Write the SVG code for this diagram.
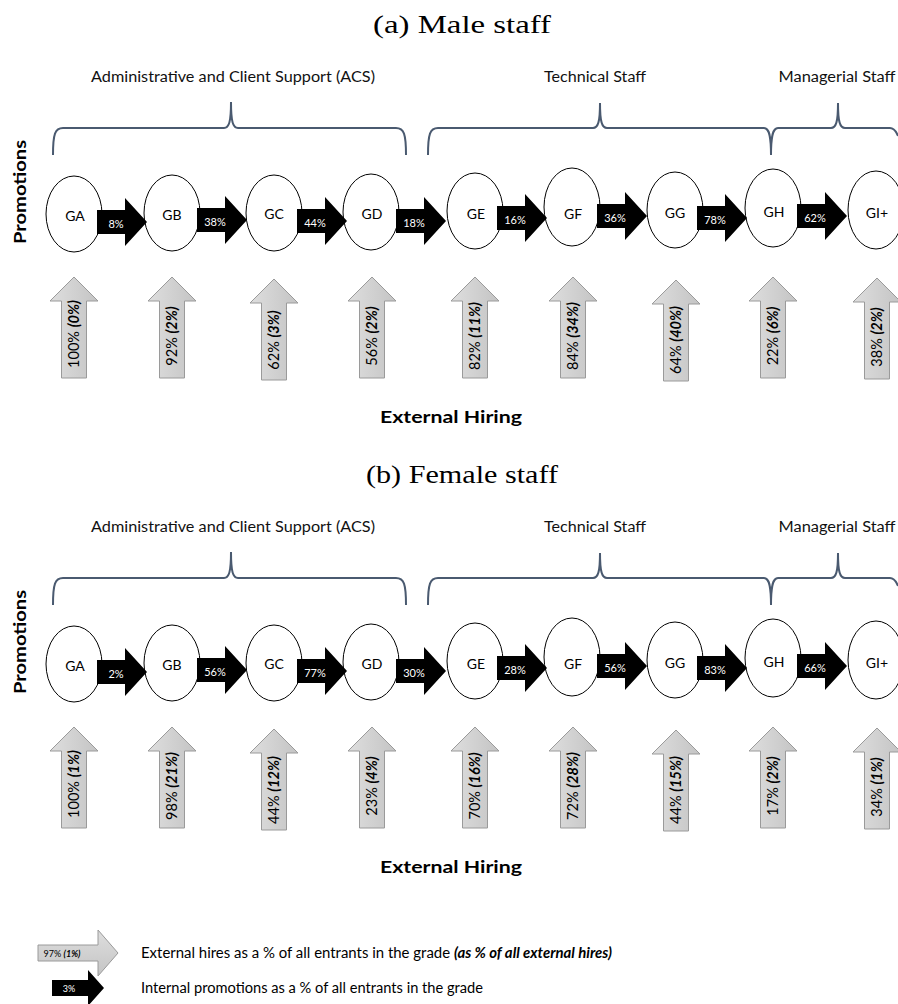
<svg xmlns="http://www.w3.org/2000/svg" width="898" height="1004" viewBox="0 0 898 1004">
<style>
.title{font-family:"Liberation Serif","DejaVu Serif",serif;font-size:26px;fill:#000;text-anchor:middle}
.grp{font-family:Lato,"Liberation Sans",sans-serif;font-size:14.5px;fill:#111;text-anchor:middle}
.axis{font-family:Lato,"Liberation Sans",sans-serif;font-size:17px;font-weight:bold;fill:#000;text-anchor:middle}
.node ellipse{fill:#fff;stroke:#000;stroke-width:1}
.node text{font-family:Lato,"Liberation Sans",sans-serif;font-size:14px;fill:#000;text-anchor:middle;dominant-baseline:central}
.brace{fill:none;stroke:#4a5a70;stroke-width:2}
.blk{fill:#000}
.blabel{font-family:Lato,"Liberation Sans",sans-serif;font-size:11px;fill:#fff;text-anchor:middle;dominant-baseline:central}
.up{fill:url(#gg);stroke:#9a9a9a;stroke-width:1}
.ulabel{font-family:Lato,"Liberation Sans",sans-serif;font-size:14.5px;fill:#000;text-anchor:middle}
.bi{font-weight:bold;font-style:italic}
.leg{font-family:Lato,"Liberation Sans",sans-serif;font-size:14.8px;fill:#000}
</style>
<defs>
<linearGradient id="gg" x1="0" y1="0" x2="1" y2="0">
<stop offset="0" stop-color="#dedede"/>
<stop offset="1" stop-color="#c4c4c4"/>
</linearGradient>
<linearGradient id="gv" x1="0" y1="0" x2="0" y2="1">
<stop offset="0" stop-color="#dedede"/>
<stop offset="1" stop-color="#c4c4c4"/>
</linearGradient>
<path id="blkarrow" d="M0,-12 H28 V-24 L50,0 L28,24 V12 H0 Z"/>
<path id="uparrow" d="M0,0 L24,24 H12.5 V101 H-12.5 V24 H-24 Z"/>
</defs>

<!-- ================= PANEL A ================= -->
<text class="title" x="462" y="33" textLength="178" lengthAdjust="spacingAndGlyphs">(a) Male staff</text>
<text class="grp" x="233" y="82" textLength="284" lengthAdjust="spacingAndGlyphs">Administrative and Client Support (ACS)</text>
<text class="grp" x="595" y="82" textLength="102" lengthAdjust="spacingAndGlyphs">Technical Staff</text>
<text class="grp" x="837" y="82" textLength="117" lengthAdjust="spacingAndGlyphs">Managerial Staff</text>
<g id="braces-a">
<path class="brace" d="M53,155 C53,134 55,128 63,128 L224,128 C229,128 231,122 231,102 C231,122 233,128 238,128 L396,128 C404,128 406,134 406,155"/>
<path class="brace" d="M428,155 C428,134 430,128 438,128 L593,128 C598,128 600,122 600,103 C600,122 602,128 607,128 L764,128 C769,128 771,135 771,155 C771,135 773,128 778,128 L831,128 C836,128 838,122 838,103 C838,122 840,128 845,128 L890,128 C894,128 896,131 898,136"/>
</g>
<text class="axis" transform="translate(26,192) rotate(-90)" textLength="104" lengthAdjust="spacingAndGlyphs">Promotions</text>

<g id="a-GA" class="node"><ellipse cx="74" cy="214" rx="28" ry="38"/><text x="75" y="215">GA</text></g>
<g id="a-GB" class="node"><ellipse cx="172" cy="213" rx="28" ry="38"/><text x="172" y="214">GB</text></g>
<g id="a-GC" class="node"><ellipse cx="274" cy="213" rx="28" ry="38"/><text x="274" y="213">GC</text></g>
<g id="a-GD" class="node"><ellipse cx="371" cy="212" rx="28" ry="38"/><text x="372" y="213">GD</text></g>
<g id="a-GE" class="node"><ellipse cx="475" cy="211" rx="28" ry="38"/><text x="476" y="213">GE</text></g>
<g id="a-GF" class="node"><ellipse cx="572" cy="207" rx="28" ry="39"/><text x="573" y="213">GF</text></g>
<g id="a-GG" class="node"><ellipse cx="675" cy="210" rx="28" ry="38"/><text x="675" y="212">GG</text></g>
<g id="a-GH" class="node"><ellipse cx="773" cy="208" rx="28" ry="39"/><text x="774" y="211">GH</text></g>
<g id="a-GI" class="node"><ellipse cx="876" cy="210" rx="28" ry="39"/><text x="877" y="212">GI+</text></g>

<g id="connectors-a">
<use href="#blkarrow" class="blk" x="97" y="222"/><text class="blabel" x="116" y="223">8%</text>
<use href="#blkarrow" class="blk" x="197" y="220"/><text class="blabel" x="215" y="221">38%</text>
<use href="#blkarrow" class="blk" x="297" y="221"/><text class="blabel" x="315" y="222">44%</text>
<use href="#blkarrow" class="blk" x="396" y="221"/><text class="blabel" x="414" y="222">18%</text>
<use href="#blkarrow" class="blk" x="497" y="218"/><text class="blabel" x="515" y="219">16%</text>
<use href="#blkarrow" class="blk" x="597" y="216"/><text class="blabel" x="615" y="217">36%</text>
<use href="#blkarrow" class="blk" x="697" y="218"/><text class="blabel" x="715" y="219">78%</text>
<use href="#blkarrow" class="blk" x="797" y="216"/><text class="blabel" x="815" y="217">62%</text>
</g>

<g id="a-hire-GA"><use href="#uparrow" class="up" x="74" y="277"/><text class="ulabel" transform="translate(79,334) rotate(-90)">100% <tspan class="bi">(0%)</tspan></text></g>
<g id="a-hire-GB"><use href="#uparrow" class="up" x="172" y="277"/><text class="ulabel" transform="translate(177,336) rotate(-90)">92% <tspan class="bi">(2%)</tspan></text></g>
<g id="a-hire-GC"><use href="#uparrow" class="up" x="274" y="279"/><text class="ulabel" transform="translate(279,340) rotate(-90)">62% <tspan class="bi">(3%)</tspan></text></g>
<g id="a-hire-GD"><use href="#uparrow" class="up" x="372" y="277"/><text class="ulabel" transform="translate(377,336) rotate(-90)">56% <tspan class="bi">(2%)</tspan></text></g>
<g id="a-hire-GE"><use href="#uparrow" class="up" x="475" y="277"/><text class="ulabel" transform="translate(480,336) rotate(-90)">82% <tspan class="bi">(11%)</tspan></text></g>
<g id="a-hire-GF"><use href="#uparrow" class="up" x="573" y="277"/><text class="ulabel" transform="translate(578,336) rotate(-90)">84% <tspan class="bi">(34%)</tspan></text></g>
<g id="a-hire-GG"><use href="#uparrow" class="up" x="676" y="280"/><text class="ulabel" transform="translate(681,340) rotate(-90)">64% <tspan class="bi">(40%)</tspan></text></g>
<g id="a-hire-GH"><use href="#uparrow" class="up" x="773" y="277"/><text class="ulabel" transform="translate(778,336) rotate(-90)">22% <tspan class="bi">(6%)</tspan></text></g>
<g id="a-hire-GI"><use href="#uparrow" class="up" x="877" y="278"/><text class="ulabel" transform="translate(882,337) rotate(-90)">38% <tspan class="bi">(2%)</tspan></text></g>

<text class="axis" x="451" y="423" textLength="142" lengthAdjust="spacingAndGlyphs">External Hiring</text>

<!-- ================= PANEL B ================= -->
<g transform="translate(0,450)">
<text class="title" x="462" y="33" textLength="192" lengthAdjust="spacingAndGlyphs">(b) Female staff</text>
<text class="grp" x="233" y="82" textLength="284" lengthAdjust="spacingAndGlyphs">Administrative and Client Support (ACS)</text>
<text class="grp" x="595" y="82" textLength="102" lengthAdjust="spacingAndGlyphs">Technical Staff</text>
<text class="grp" x="837" y="82" textLength="117" lengthAdjust="spacingAndGlyphs">Managerial Staff</text>
<g id="braces-b">
<path class="brace" d="M53,155 C53,134 55,128 63,128 L224,128 C229,128 231,122 231,102 C231,122 233,128 238,128 L396,128 C404,128 406,134 406,155"/>
<path class="brace" d="M428,155 C428,134 430,128 438,128 L593,128 C598,128 600,122 600,103 C600,122 602,128 607,128 L764,128 C769,128 771,135 771,155 C771,135 773,128 778,128 L831,128 C836,128 838,122 838,103 C838,122 840,128 845,128 L890,128 C894,128 896,131 898,136"/>
</g>
<text class="axis" transform="translate(26,192) rotate(-90)" textLength="104" lengthAdjust="spacingAndGlyphs">Promotions</text>

<g id="b-GA" class="node"><ellipse cx="74" cy="214" rx="28" ry="38"/><text x="75" y="215">GA</text></g>
<g id="b-GB" class="node"><ellipse cx="172" cy="213" rx="28" ry="38"/><text x="172" y="214">GB</text></g>
<g id="b-GC" class="node"><ellipse cx="274" cy="213" rx="28" ry="38"/><text x="274" y="213">GC</text></g>
<g id="b-GD" class="node"><ellipse cx="371" cy="212" rx="28" ry="38"/><text x="372" y="213">GD</text></g>
<g id="b-GE" class="node"><ellipse cx="475" cy="211" rx="28" ry="38"/><text x="476" y="213">GE</text></g>
<g id="b-GF" class="node"><ellipse cx="572" cy="207" rx="28" ry="39"/><text x="573" y="213">GF</text></g>
<g id="b-GG" class="node"><ellipse cx="675" cy="210" rx="28" ry="38"/><text x="675" y="212">GG</text></g>
<g id="b-GH" class="node"><ellipse cx="773" cy="208" rx="28" ry="39"/><text x="774" y="211">GH</text></g>
<g id="b-GI" class="node"><ellipse cx="876" cy="210" rx="28" ry="39"/><text x="877" y="212">GI+</text></g>

<g id="connectors-b">
<use href="#blkarrow" class="blk" x="97" y="222"/><text class="blabel" x="116" y="223">2%</text>
<use href="#blkarrow" class="blk" x="197" y="220"/><text class="blabel" x="215" y="221">56%</text>
<use href="#blkarrow" class="blk" x="297" y="221"/><text class="blabel" x="315" y="222">77%</text>
<use href="#blkarrow" class="blk" x="396" y="221"/><text class="blabel" x="414" y="222">30%</text>
<use href="#blkarrow" class="blk" x="497" y="218"/><text class="blabel" x="515" y="219">28%</text>
<use href="#blkarrow" class="blk" x="597" y="216"/><text class="blabel" x="615" y="217">56%</text>
<use href="#blkarrow" class="blk" x="697" y="218"/><text class="blabel" x="715" y="219">83%</text>
<use href="#blkarrow" class="blk" x="797" y="216"/><text class="blabel" x="815" y="217">66%</text>
</g>

<g id="b-hire-GA"><use href="#uparrow" class="up" x="74" y="277"/><text class="ulabel" transform="translate(79,334) rotate(-90)">100% <tspan class="bi">(1%)</tspan></text></g>
<g id="b-hire-GB"><use href="#uparrow" class="up" x="172" y="277"/><text class="ulabel" transform="translate(177,336) rotate(-90)">98% <tspan class="bi">(21%)</tspan></text></g>
<g id="b-hire-GC"><use href="#uparrow" class="up" x="274" y="279"/><text class="ulabel" transform="translate(279,340) rotate(-90)">44% <tspan class="bi">(12%)</tspan></text></g>
<g id="b-hire-GD"><use href="#uparrow" class="up" x="372" y="277"/><text class="ulabel" transform="translate(377,336) rotate(-90)">23% <tspan class="bi">(4%)</tspan></text></g>
<g id="b-hire-GE"><use href="#uparrow" class="up" x="475" y="277"/><text class="ulabel" transform="translate(480,336) rotate(-90)">70% <tspan class="bi">(16%)</tspan></text></g>
<g id="b-hire-GF"><use href="#uparrow" class="up" x="573" y="277"/><text class="ulabel" transform="translate(578,336) rotate(-90)">72% <tspan class="bi">(28%)</tspan></text></g>
<g id="b-hire-GG"><use href="#uparrow" class="up" x="676" y="280"/><text class="ulabel" transform="translate(681,340) rotate(-90)">44% <tspan class="bi">(15%)</tspan></text></g>
<g id="b-hire-GH"><use href="#uparrow" class="up" x="773" y="277"/><text class="ulabel" transform="translate(778,336) rotate(-90)">17% <tspan class="bi">(2%)</tspan></text></g>
<g id="b-hire-GI"><use href="#uparrow" class="up" x="877" y="278"/><text class="ulabel" transform="translate(882,337) rotate(-90)">34% <tspan class="bi">(1%)</tspan></text></g>

<text class="axis" x="451" y="423" textLength="142" lengthAdjust="spacingAndGlyphs">External Hiring</text>
</g>

<!-- ================= LEGEND ================= -->
<g id="legend-external">
<path d="M38,945 H98 V930 L118,953 L98,976 V961 H38 Z" fill="url(#gv)" stroke="#9a9a9a" stroke-width="1"/>
<text x="62" y="956.5" font-family="Lato, 'Liberation Sans', sans-serif" font-size="9" text-anchor="middle">97% <tspan class="bi">(1%)</tspan></text>
<text class="leg" x="141" y="958" textLength="471" lengthAdjust="spacingAndGlyphs">External hires as a % of all entrants in the grade <tspan class="bi">(as % of all external hires)</tspan></text>
</g>
<g id="legend-internal">
<path d="M52,980 H88 V970 L104,988 L88,1006 V996 H52 Z" fill="#000"/>
<text x="69" y="991.5" font-family="Lato, 'Liberation Sans', sans-serif" font-size="9" fill="#fff" text-anchor="middle">3%</text>
<text class="leg" x="141" y="993" textLength="342" lengthAdjust="spacingAndGlyphs">Internal promotions as a % of all entrants in the grade</text>
</g>
</svg>
